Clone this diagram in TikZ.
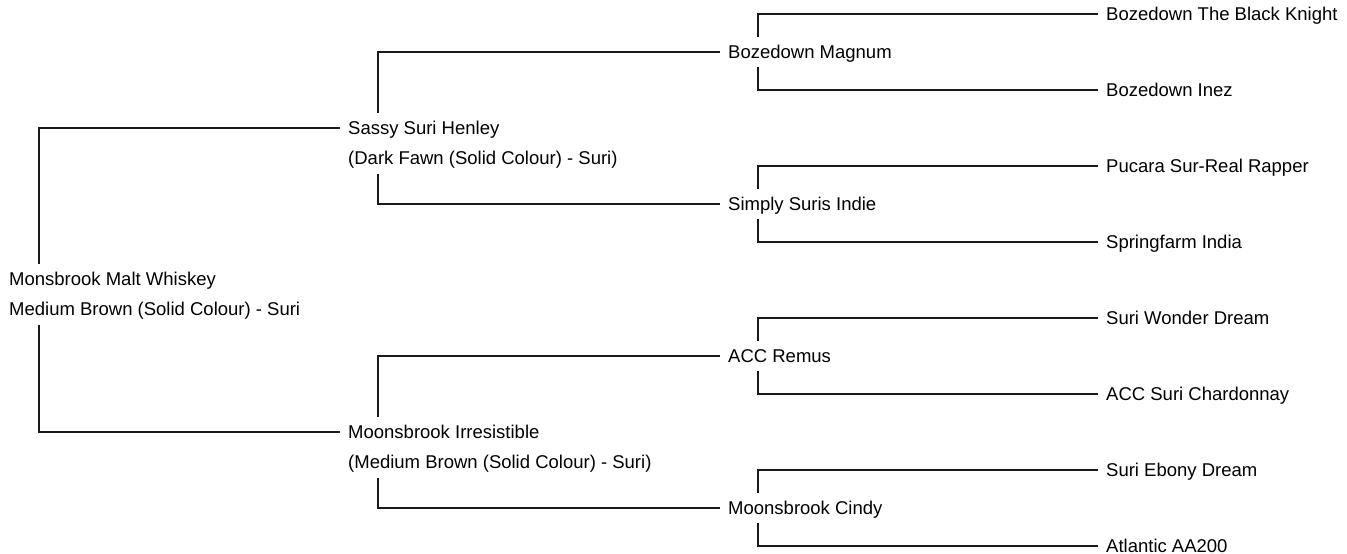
\documentclass[tikz,border=0pt]{standalone}
\usepackage{fontspec}
\setmainfont{Liberation Sans}
\usetikzlibrary{positioning}

\begin{document}
\begin{tikzpicture}[x=1pt,y=-1pt,
    horse/.style={anchor=west, font=\fontsize{18.5}{22}\selectfont, inner xsep=8pt, inner ysep=6.5pt, text height=15pt, text depth=2pt},
    coat/.style={horse, below=0pt of #1.south west, anchor=north west},
    link/.style={line width=1.3pt, draw=black!90}]
        \def\tab{38}
        \useasboundingbox (0,0) rectangle (1347,554);

        \node[horse] (malt) at (1,279) {Monsbrook Malt Whiskey};
        \node[coat=malt] (maltc) {Medium Brown (Solid Colour) - Suri};

        \node[horse] (henley) at (340,128) {Sassy Suri Henley};
        \node[coat=henley] (henleyc) {(Dark Fawn (Solid Colour) - Suri)};
        \node[horse] (irres) at (340,432) {Moonsbrook Irresistible};
        \node[coat=irres] (irresc) {(Medium Brown (Solid Colour) - Suri)};

        \node[horse] (magnum) at (720,52) {Bozedown Magnum};
        \node[horse] (indie) at (720,204) {Simply Suris Indie};
        \node[horse] (remus) at (720,356) {ACC Remus};
        \node[horse] (cindy) at (720,508) {Moonsbrook Cindy};

        \node[horse] (knight) at (1098,14) {Bozedown The Black Knight};
        \node[horse] (inez) at (1098,90) {Bozedown Inez};
        \node[horse] (rapper) at (1098,166) {Pucara Sur-Real Rapper};
        \node[horse] (india) at (1098,242) {Springfarm India};
        \node[horse] (wonder) at (1098,318) {Suri Wonder Dream};
        \node[horse] (chard) at (1098,394) {ACC Suri Chardonnay};
        \node[horse] (ebony) at (1098,470) {Suri Ebony Dream};
        \node[horse] (atlantic) at (1098,546) {Atlantic AA200};

        \draw[link] ([xshift=\tab pt]malt.north west) |- (henley.west);
        \draw[link] ([xshift=\tab pt]maltc.south west) |- (irres.west);

        \draw[link] ([xshift=\tab pt]henley.north west) |- (magnum.west);
        \draw[link] ([xshift=\tab pt]henleyc.south west) |- (indie.west);
        \draw[link] ([xshift=\tab pt]irres.north west) |- (remus.west);
        \draw[link] ([xshift=\tab pt]irresc.south west) |- (cindy.west);

        \foreach \p/\s/\d in {magnum/knight/inez, indie/rapper/india, remus/wonder/chard, cindy/ebony/atlantic} {
            \draw[link] ([xshift=\tab pt]\p.north west) |- (\s.west);
            \draw[link] ([xshift=\tab pt]\p.south west) |- (\d.west);
        }
\end{tikzpicture}
\end{document}
